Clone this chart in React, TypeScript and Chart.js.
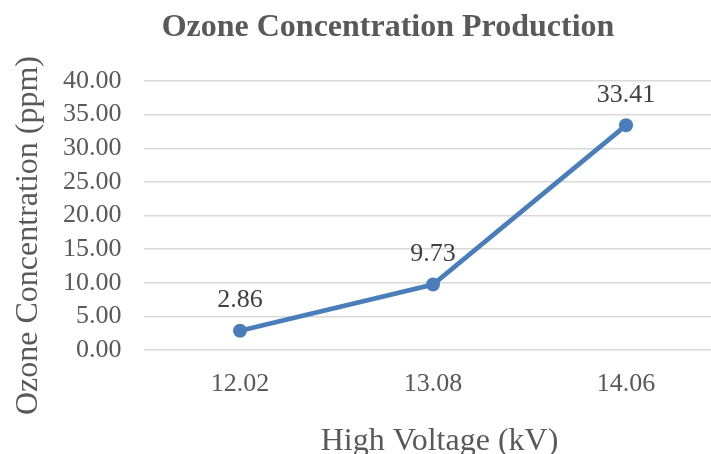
import React, { useEffect, useRef } from "react";
import { Chart, registerables } from "chart.js";

Chart.register(...registerables);

const categories = ["12.02", "13.08", "14.06"];
const ozone = [2.86, 9.73, 33.41];
const yMin = 0;
const yMax = 40;
const yStep = 5;
const chartTitle = "Ozone Concentration Production";
const xTitle = "High Voltage (kV)";
const yTitle = "Ozone Concentration (ppm)";

const FONT = "'Liberation Serif', 'Times New Roman', Times, serif";
const GREY = "#595959";
const BLUE = "#4A7EBB";

const overlay = {
  id: "overlay",
  afterDatasetsDraw(chart: any) {
    const ctx = chart.ctx;
    const meta = chart.getDatasetMeta(0);
    ctx.save();
    ctx.font = `26px ${FONT}`;
    ctx.fillStyle = "#404040";
    ctx.textAlign = "center";
    ctx.textBaseline = "alphabetic";
    meta.data.forEach((pt: any, i: number) => {
      ctx.fillText(ozone[i].toFixed(2), pt.x, pt.y - 23.5);
    });
    ctx.font = `bold 32px ${FONT}`;
    ctx.fillStyle = GREY;
    ctx.fillText(chartTitle, 388, 36);
    ctx.font = `32px ${FONT}`;
    ctx.fillText(xTitle, 439.5, 449.5);
    ctx.restore();

    ctx.save();
    ctx.translate(36.5, 235.5);
    ctx.rotate(-Math.PI / 2);
    ctx.font = `32px ${FONT}`;
    ctx.fillStyle = GREY;
    ctx.textAlign = "center";
    ctx.textBaseline = "alphabetic";
    ctx.fillText(yTitle, 0, 0);
    ctx.restore();
  },
};

export default function App() {
  const ref = useRef<HTMLCanvasElement | null>(null);

  useEffect(() => {
    if (!ref.current) return;
    const chart = new Chart(ref.current, {
      type: "line",
      data: {
        labels: categories,
        datasets: [
          {
            data: ozone,
            borderColor: BLUE,
            backgroundColor: BLUE,
            borderWidth: 4.7,
            pointRadius: 7,
            pointBackgroundColor: BLUE,
            pointBorderWidth: 0,
            tension: 0,
            fill: false,
          },
        ],
      },
      options: {
        responsive: false,
        animation: false,
        devicePixelRatio: 1,
        layout: { padding: { top: 81, right: 8.5, left: 0, bottom: 0 } },
        plugins: {
          legend: { display: false },
          title: { display: false },
          tooltip: { enabled: false },
        },
        scales: {
          x: {
            type: "category",
            offset: true,
            grid: { display: false, drawTicks: false },
            border: { display: false },
            ticks: {
              color: GREY,
              font: { family: FONT, size: 26 },
              padding: 18.6,
              maxRotation: 0,
              autoSkip: false,
            },
            title: { display: false },
            afterFit: (s: any) => {
              s.height = 104;
            },
          },
          y: {
            min: yMin,
            max: yMax,
            ticks: {
              stepSize: yStep,
              autoSkip: false,
              color: GREY,
              font: { family: FONT, size: 26 },
              padding: 22,
              callback: (v: any) => Number(v).toFixed(2),
            },
            grid: { color: "#D9D9D9", lineWidth: 1.5, drawTicks: false },
            border: { display: false },
            title: { display: false },
            afterFit: (s: any) => {
              s.width = 143.5;
            },
          },
        },
      },
      plugins: [overlay],
    } as any);
    return () => chart.destroy();
  }, []);

  return (
    <div
      style={{
        position: "fixed",
        left: 0,
        top: 0,
        width: 711,
        height: 454,
        overflow: "hidden",
        background: "#fff",
      }}
    >
      <canvas ref={ref} width={731} height={454} style={{ display: "block" }} />
    </div>
  );
}
